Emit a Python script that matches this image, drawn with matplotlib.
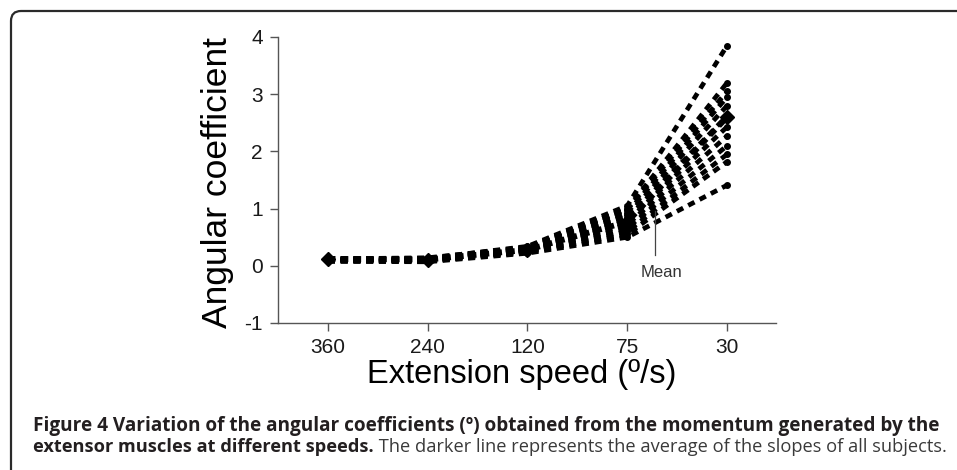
import matplotlib
matplotlib.use('Agg')
import matplotlib.pyplot as plt
from matplotlib.patches import FancyBboxPatch

# speeds on the x axis (categorical, fastest first)
speeds = ['360', '240', '120', '75', '30']

# angular coefficient per subject at each speed
subjects = [
    [0.13, 0.13, 0.34, 1.05, 3.85],
    [0.12, 0.12, 0.33, 1.00, 3.20],
    [0.12, 0.14, 0.32, 0.98, 3.05],
    [0.11, 0.12, 0.31, 0.93, 2.95],
    [0.11, 0.11, 0.30, 0.88, 2.80],
    [0.10, 0.10, 0.30, 0.83, 2.62],
    [0.10, 0.10, 0.28, 0.78, 2.43],
    [0.10, 0.09, 0.27, 0.72, 2.27],
    [0.09, 0.09, 0.26, 0.66, 2.10],
    [0.09, 0.08, 0.25, 0.60, 1.95],
    [0.08, 0.08, 0.24, 0.55, 1.82],
    [0.08, 0.07, 0.22, 0.50, 1.41],
]
mean_slope = [0.12, 0.11, 0.28, 0.77, 2.60]

yticks = [-1, 0, 1, 2, 3, 4]

# "Mean" pointer (data coords)
mean_line_x = 3.28
mean_line_y = (0.19, 0.95)
mean_text_xy = (3.34, -0.19)

caption_1 = "Figure 4 Variation of the angular coefficients (\u00ba) obtained from the momentum generated by the"
caption_2b = "extensor muscles at different speeds."
caption_2r = " The darker line represents the average of the slopes of all subjects."

plt.rcParams['font.family'] = ['Liberation Sans', 'DejaVu Sans']

W, H = 957, 470
fig = plt.figure(figsize=(W / 100, H / 100), dpi=100)
ax = fig.add_axes([278 / W, 1 - 323 / H, 498 / W, 286 / H])

x = list(range(len(speeds)))
for s in subjects:
    ax.plot(x, s, color='black', lw=3.4, dashes=(1.5, 1.2),
            marker='o', ms=4, dash_capstyle='butt')
ax.plot(x, mean_slope, color='black', lw=4.2, dashes=(1.3, 0.9),
        marker='D', ms=7.5, zorder=5)

ax.set_xlim(-0.5, 4.49)
ax.set_ylim(-1, 4)
ax.set_xticks(x)
ax.set_xticklabels(speeds)
ax.set_yticks(yticks)
ax.set_yticklabels([str(v) for v in yticks])

for side in ['top', 'right']:
    ax.spines[side].set_visible(False)
for side in ['left', 'bottom']:
    ax.spines[side].set_color('#555555')
    ax.spines[side].set_linewidth(1.0)
ax.tick_params(direction='out', length=6, width=1, color='#555555',
               labelsize=15, labelcolor='#1a1a1a', pad=5)

ax.set_ylabel('Angular coefficient', fontsize=25.5, va='center')
ax.yaxis.set_label_coords((217 - 278) / 498, 0.49)
ax.set_xlabel('Extension speed (\u00ba/s)', fontsize=23.5, va='top')
ax.xaxis.set_label_coords((522 - 278) / 498, (323 - 359) / 286)

ax.plot([mean_line_x, mean_line_x], mean_line_y, color='#444444', lw=0.9)
ax.text(*mean_text_xy, 'Mean', ha='center', va='baseline',
        fontsize=12, color='#333333')

# frame round the figure (only top and left edges show)
frame = FancyBboxPatch((0.11, -1.0), 12, 4.59 + 1.0,
                       boxstyle='round,pad=0,rounding_size=0.1',
                       transform=fig.dpi_scale_trans, fill=False,
                       edgecolor='#2a2a2a', lw=1.6)
fig.add_artist(frame)

# caption, sized to fill the same width as the original lines
cap_font = ['Open Sans', 'DejaVu Sans']
x0 = 33 / W
r = fig.canvas.get_renderer()
t1 = fig.text(x0, 1 - 431 / H, caption_1, fontsize=13, fontweight='bold',
              family=cap_font, color='#231f20', va='baseline')
size1 = 13 * (936 - 33) / t1.get_window_extent(r).width
t1.set_fontsize(size1)

t2 = fig.text(x0, 1 - 452 / H, caption_2b, fontsize=13, fontweight='bold',
              family=cap_font, color='#231f20', va='baseline')
t3 = fig.text(0, 1 - 452 / H, caption_2r, fontsize=13,
              family=cap_font, color='#3a3a3a', va='baseline')
w2 = t2.get_window_extent(r).width + t3.get_window_extent(r).width
size2 = min(size1, 13 * (943 - 33) / w2)
t2.set_fontsize(size2)
t3.set_fontsize(size2)
t3.set_x(t2.get_window_extent(r).x1 / W)

fig.savefig('out.png', dpi=100)
